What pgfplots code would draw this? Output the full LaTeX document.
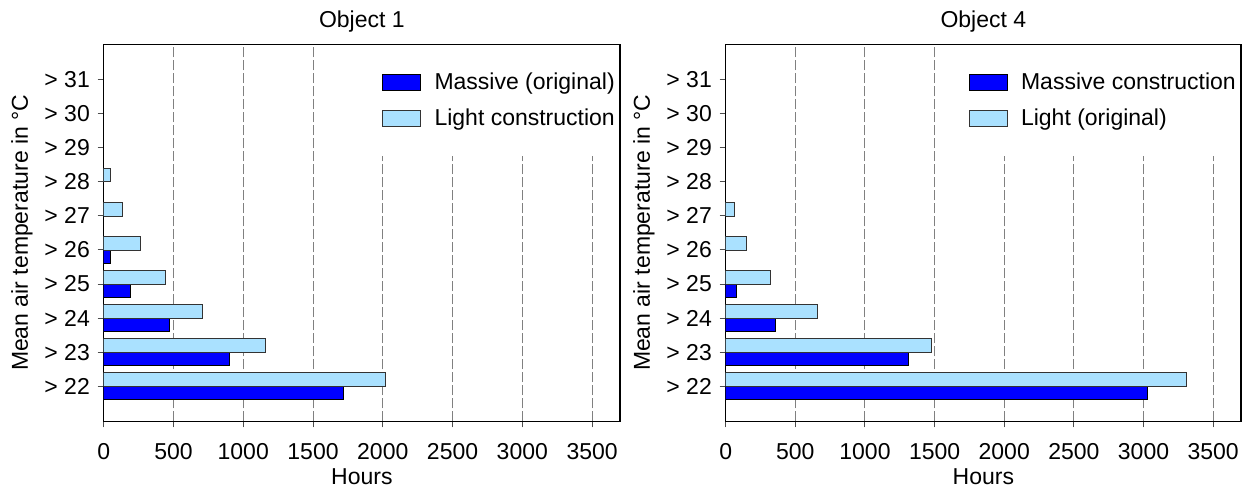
\documentclass[border=0pt]{standalone}
\usepackage{fontspec}
\setmainfont{Liberation Sans}
\usepackage{pgfplots}
\pgfplotsset{compat=1.18}
\definecolor{darkbar}{RGB}{0,0,255}
\definecolor{lightbar}{RGB}{170,225,255}
\pgfplotsset{
  mybase/.style={
    scale only axis, anchor=south west,
    height=377pt,
    xbar, bar width=13.5pt,
    xmin=0, xmax=3700, ymin=20.97, ymax=32.04,
    xtick={0,500,...,3500},
    ytick={22,...,31},
    yticklabels={> 22,> 23,> 24,> 25,> 26,> 27,> 28,> 29,> 30,> 31},
    tick pos=left,
    xmajorgrids,
    major grid style={gray, dash pattern=on 10pt off 3pt, line width=1pt},
    tick align=outside, major tick length=6pt,
    tick style={gray!60!black, line width=1pt},
    axis line style={line width=1.2pt},
    /pgf/number format/assume math mode=true,
    /pgf/number format/1000 sep={},
    xticklabel style={yshift=-8pt},
    xlabel={Hours},
    xlabel style={at={(axis description cs:0.5,-0.146)}, anchor=center},
    ylabel={Mean air temperature in °C},
    title style={at={(axis description cs:0.5,1.045)}, anchor=center},
    legend style={at={(1,1)}, xshift=-1pt, yshift=-1pt, anchor=north east, draw=none, fill=white,
      inner xsep=2pt, inner ysep=25pt, row sep=12pt,
      cells={anchor=west}},
    legend image code/.code={\draw[#1, line width=0.8pt] (0pt,-8pt) rectangle (38pt,8pt); \path[draw=none,fill=none] (0pt,0pt) -- (50pt,0pt);},
  },
  darkst/.style={fill=darkbar, draw=black, line width=0.8pt, bar shift=-6.75pt},
  lightst/.style={fill=lightbar, draw=black!80, line width=0.8pt, bar shift=6.75pt},
}
\begin{document}%
\fontsize{23}{27}\selectfont%
\begin{tikzpicture}
\useasboundingbox (0,0) rectangle (1246pt,487pt);
\begin{axis}[mybase, at={(103.7pt,65.7pt)}, width=516.3pt, title={Object 1},
  ylabel style={at={(axis description cs:-0.1582,0.5)}, anchor=center}]
\addplot[darkst] coordinates {(1720,22) (900,23) (470,24) (190,25) (45,26)};
\addlegendentry{Massive (original)}
\addplot[lightst] coordinates {(2020,22) (1160,23) (705,24) (440,25) (265,26) (135,27) (45,28)};
\addlegendentry{Light construction}
\end{axis}
\begin{axis}[mybase, at={(725.7pt,65.7pt)}, width=515.3pt, title={Object 4},
  ylabel style={at={(axis description cs:-0.1585,0.5)}, anchor=center}]
\addplot[darkst] coordinates {(3025,22) (1310,23) (360,24) (80,25)};
\addlegendentry{Massive construction}
\addplot[lightst] coordinates {(3310,22) (1480,23) (660,24) (323,25) (150,26) (65,27)};
\addlegendentry{Light (original)}
\end{axis}
\end{tikzpicture}%
\end{document}
